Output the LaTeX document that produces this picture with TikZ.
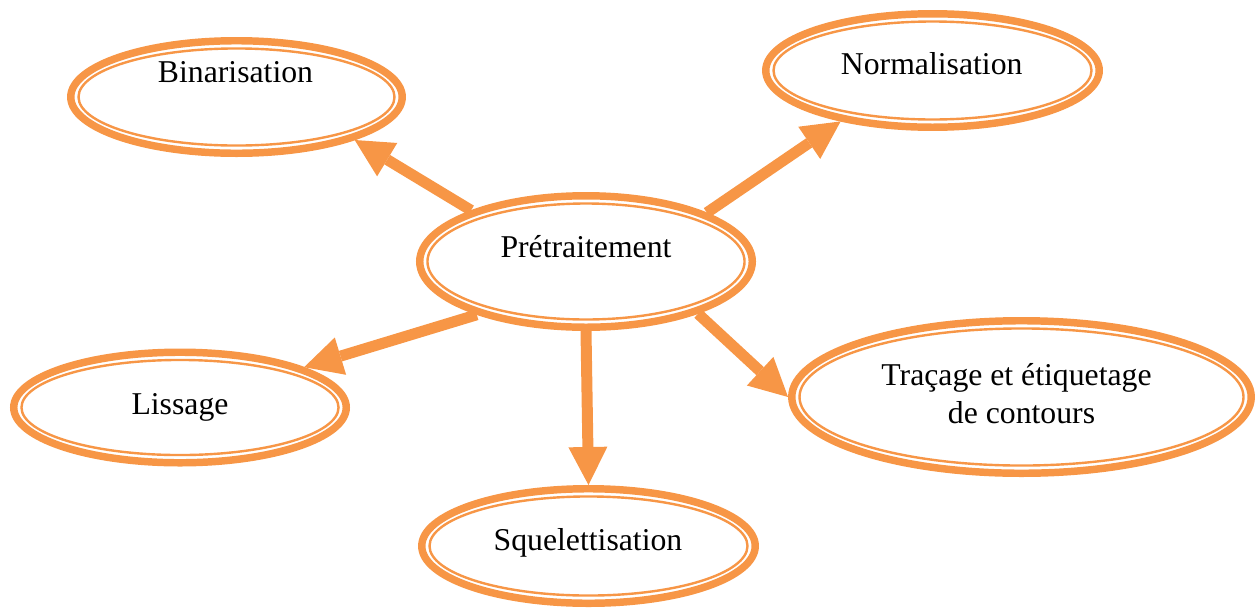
\documentclass[tikz,border=0pt]{standalone}
\usepackage{fontspec}
\setmainfont{Liberation Serif}
\usetikzlibrary{shapes.geometric,arrows.meta}
\definecolor{accent}{HTML}{F79646}
\tikzset{
  ring/.style={ellipse, draw=accent, line width=5.6pt, inner sep=0pt, fill=white},
  innerring/.style={draw=accent, line width=1.8pt},
  label/.style={anchor=base, font=\fontsize{23.8}{28.5}\selectfont, inner sep=0pt, align=center},
  flow/.style={draw=accent, line width=8.25pt,
    -{Triangle[width=29.25pt,length=28.5pt,line width=0pt]}},
}
% ring outline plus the thin inner line, 5.8pt inside the main one
\newcommand{\ringnode}[4]{%
  \node[ring, minimum width=#3, minimum height=#4] (#1) at #2 {};
  \draw[innerring] (#1.center) ellipse [x radius={#3/2-5.8pt}, y radius={#4/2-5.8pt}];
}
\begin{document}
\begin{tikzpicture}[x=0.75pt, y=-0.75pt]
  \useasboundingbox (0,0) rectangle (1259,611);

  \ringnode{pre}{(586,261.5)}{249.4pt}{98.6pt}
  \ringnode{bin}{(236.5,97)}{248.6pt}{84.4pt}
  \ringnode{norm}{(932.5,70.5)}{250.1pt}{85.1pt}
  \ringnode{lis}{(180,407.5)}{249.4pt}{82.9pt}
  \ringnode{trac}{(1021.5,397)}{344.6pt}{114.4pt}
  \ringnode{squ}{(588.5,546)}{250.1pt}{85.9pt}

  \node[label] (pret) at (586,257.7) {Prétraitement};
  \node[label] (bint) at (235.5,82) {Binarisation};
  \node[label] (normt) at (931.7,74) {Normalisation};
  \node[label] (list) at (180,414) {Lissage};
  \node[label] (squt) at (588,550) {Squelettisation};
  \node[label] (tract1) at (1016.5,385) {Traçage et étiquetage};
  \node[label] (tract2) at (1021.5,423.3) {de contours};

  \draw[flow] (pre.156) -- (bin.-20.7);
  \draw[flow] (pre.22.6) -- (norm.-151.4);
  \draw[flow] (pre.206.4) -- (lis.18.7);
  \draw[flow] (pre.-90) -- (squ.north);
  \draw[flow] (pre.-25.8) -- (trac.west);
\end{tikzpicture}
\end{document}
